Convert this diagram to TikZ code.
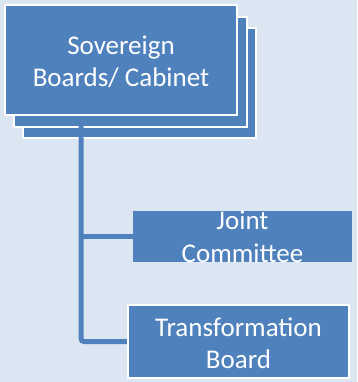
\documentclass[tikz,border=0pt]{standalone}
\usepackage{fontspec}
\setmainfont{Carlito}
\definecolor{pagebg}{RGB}{220,230,242}
\definecolor{boxblue}{RGB}{79,129,189}
\begin{document}
\begin{tikzpicture}[x=1pt,y=-1pt,
  orgbox/.style={rectangle, fill=boxblue, draw=white, line width=1.5pt, inner sep=0pt},
  plainbox/.style={rectangle, fill=boxblue, inner sep=0pt},
  boxtext/.style={text=white, align=center, inner sep=0pt, font=\fontsize{27}{32.5}\selectfont},
  conn/.style={draw=boxblue, line width=5pt, rounded corners=3pt}]
  % page background
  \fill[pagebg] (0,0) rectangle (357,382);
  \useasboundingbox (0,0) rectangle (357,382);
  % stacked sheets behind the top box
  \node[orgbox, minimum width=233pt, minimum height=110pt] (sheet3) at (139.5,83) {};
  \node[orgbox, minimum width=233pt, minimum height=110pt] (sheet2) at (130.5,72) {};
  % child boxes
  \node[plainbox, minimum width=219pt, minimum height=51pt] (jc) at (242.5,236.5) {};
  \node[orgbox, minimum width=221pt, minimum height=73pt] (tb) at (238.5,341.5) {};
  % top box position (drawn after the connectors)
  \coordinate (sovc) at (121,60);
  \coordinate (trunk) at (81,116);
  % connectors
  \draw[conn] (trunk) |- (tb.west);
  \draw[conn] (trunk |- jc.west) -- (jc.west);
  % redraw child boxes over connector ends
  \node[plainbox, minimum width=219pt, minimum height=51pt] at (jc) {};
  \node[orgbox, minimum width=221pt, minimum height=73pt] at (tb) {};
  % top box
  \node[orgbox, minimum width=232pt, minimum height=110pt] (sov) at (sovc) {};
  % texts
  \node[boxtext] (sovtext) at ([yshift=-2pt]sov.center) {Sovereign\\Boards/ Cabinet};
  \node[boxtext] (jctext) at ([yshift=-0.5pt]jc.center) {Joint\\Committee};
  \node[boxtext] (tbtext) at ([yshift=-2pt]tb.center) {Transformation\\Board};
\end{tikzpicture}
\end{document}
